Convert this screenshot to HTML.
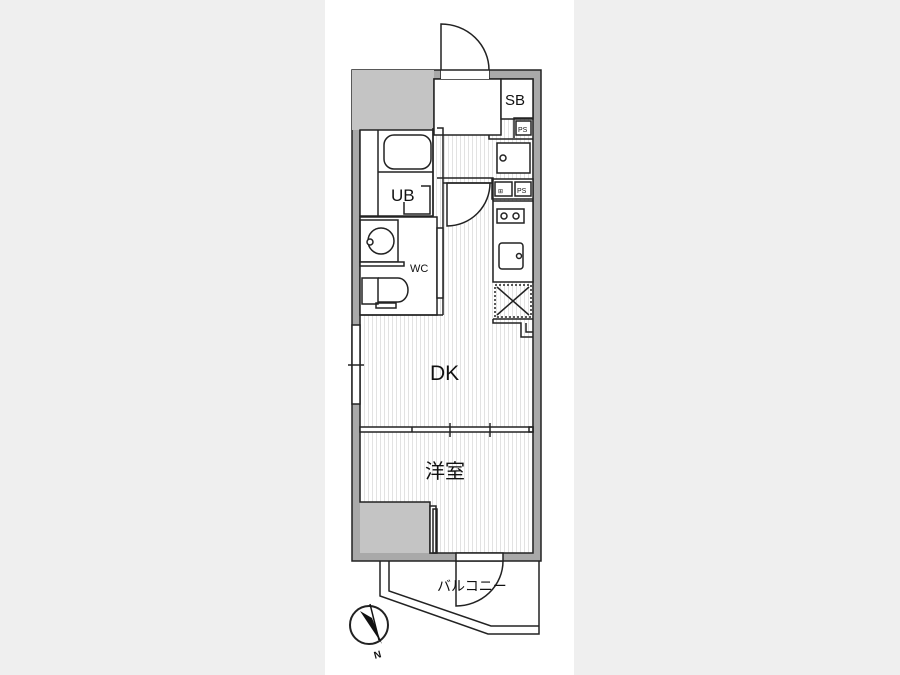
<!DOCTYPE html>
<html><head><meta charset="utf-8"><style>
html,body{margin:0;padding:0;background:#efefef;}
svg{display:block}
text{font-family:"Liberation Sans","Noto Sans CJK JP",sans-serif;fill:#111}
</style></head><body>
<svg width="900" height="675" viewBox="0 0 900 675" xmlns="http://www.w3.org/2000/svg">
<defs>
<pattern id="fl" width="4" height="10" patternUnits="userSpaceOnUse">
<rect width="4" height="10" fill="#fff"/><line x1="0.5" y1="0" x2="0.5" y2="10" stroke="#e2e2e2" stroke-width="1"/>
</pattern>
</defs>
<rect x="0" y="0" width="900" height="675" fill="#efefef"/>
<rect x="325" y="0" width="249" height="675" fill="#fff"/>
<g stroke="#222" stroke-width="1.5" fill="none">
<rect x="352" y="70" width="189" height="491" fill="#a9a9a9"/>
<rect x="360" y="79" width="173" height="474" fill="url(#fl)" stroke="none"/>
<rect x="352" y="70" width="82" height="60" fill="#c4c4c4" stroke="none"/>
<rect x="360" y="502" width="70" height="51" fill="#c4c4c4" stroke="none"/>
<path d="M360 130 L360 502 L430 502 L430 553 L533 553 L533 79 L434 79 L434 130"/>
<rect x="434" y="79" width="67" height="56" fill="#fff"/>
<line x1="441" y1="70" x2="441" y2="79"/><line x1="489" y1="70" x2="489" y2="79"/>
<rect x="441" y="69" width="48" height="10" fill="#fff" stroke="none"/>
<line x1="441" y1="70" x2="489" y2="70"/>
<path d="M441 70 L441 24 A48 46 0 0 1 489 70"/>
<rect x="501" y="79" width="32" height="40" fill="#fff"/>
<path d="M514 138 L514 118 L533 118"/>
<rect x="516" y="121" width="15" height="14" fill="#fff"/>
<path d="M489 135 L489 139 L533 139"/>
<rect x="497" y="143" width="33" height="30" fill="#fff"/>
<circle cx="503" cy="158" r="3"/>
<rect x="492" y="179" width="41" height="20" fill="#fff"/>
<rect x="495" y="182" width="17" height="14" fill="#fff"/>
<rect x="515" y="182" width="16" height="14" fill="#fff"/>
<rect x="493" y="201" width="40" height="81" fill="#fff"/>
<rect x="497" y="209" width="27" height="14"/>
<circle cx="504" cy="216" r="3"/><circle cx="516" cy="216" r="3"/>
<rect x="499" y="243" width="24" height="26" rx="3"/>
<circle cx="519" cy="256" r="2.5"/>
<rect x="495" y="285" width="36" height="32" stroke-dasharray="2 2"/>
<line x1="497" y1="287" x2="529" y2="315"/><line x1="529" y1="287" x2="497" y2="315"/>
<path d="M493 319 L533 319 M493 319 L493 323 L521 323 L521 337 L533 337 M526 323 L526 332 L533 332"/>
<path d="M437 128 L443 128 L443 315 M437 178 L493 178 L493 201"/>
<path d="M447 183 L447 226 A43 43 0 0 0 490 183 Z" fill="#fff"/>
<line x1="443" y1="183" x2="493" y2="183"/>
<rect x="360" y="130" width="73" height="86" fill="#fff"/>
<line x1="378" y1="130" x2="378" y2="216"/>
<rect x="384" y="135" width="47" height="34" rx="10"/>
<line x1="378" y1="172" x2="433" y2="172"/>
<line x1="433" y1="128" x2="433" y2="216"/>
<path d="M421 186 L430 186 L430 214 L404 214 L404 202"/>
<rect x="360" y="217" width="77" height="98" fill="#fff"/>
<rect x="360" y="220" width="38" height="42"/>
<rect x="360" y="262" width="44" height="4" fill="#fff"/>
<circle cx="381" cy="241" r="13"/><circle cx="370" cy="242" r="3" fill="#fff"/>
<rect x="362" y="278" width="16" height="26" fill="#fff"/>
<path d="M378 278 L398 278 A10 12 0 0 1 398 302 L378 302"/>
<rect x="376" y="303" width="20" height="5"/>
<rect x="437" y="228" width="6" height="70" fill="#fff"/>
<line x1="360" y1="315" x2="443" y2="315"/>
<rect x="352" y="325" width="8" height="79" fill="#fff"/>
<line x1="348" y1="365" x2="364" y2="365"/>
<rect x="360" y="427" width="173" height="5" fill="#fff"/>
<line x1="412" y1="427" x2="412" y2="432"/>
<line x1="450" y1="423" x2="450" y2="437"/><line x1="490" y1="423" x2="490" y2="437"/>
<rect x="529" y="427" width="4" height="5"/>
<rect x="430" y="506" width="6" height="47" fill="#fff"/>
<rect x="433" y="509" width="4" height="44"/>
<rect x="456" y="553" width="47" height="8" fill="#fff"/>
<path d="M456 561 L456 606 A47 45 0 0 0 503 561"/>
<path d="M380 561 L380 596 L488 634 L539 634 L539 561"/>
<path d="M389 561 L389 591 L491 626 L539 626"/>
<circle cx="369" cy="625" r="19" stroke-width="2"/>
</g>
<path d="M360 611 L372 618 L382 644 Z" fill="#111"/>
<line x1="370" y1="604" x2="379" y2="640" stroke="#111" stroke-width="1.5"/>
<text x="374" y="658" font-size="10" font-weight="bold" transform="rotate(-15 378 655)">N</text>
<text x="505" y="105" font-size="15">SB</text>
<text x="518" y="132" font-size="7">PS</text>
<text x="517" y="193" font-size="7">PS</text>
<text x="498" y="193" font-size="6">⊞</text>
<text x="391" y="201" font-size="17">UB</text>
<text x="410" y="272" font-size="11">WC</text>
<text x="430" y="380" font-size="21">DK</text>
<text x="425" y="478" font-size="20">洋室</text>
<text x="437" y="591" font-size="14">バルコニー</text>
</svg>
</body></html>
